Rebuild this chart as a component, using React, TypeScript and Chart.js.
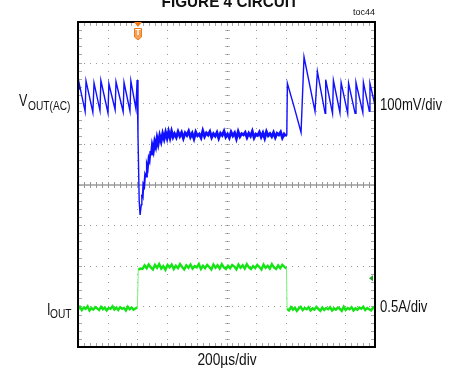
import React, { useEffect, useRef } from "react";
import { Chart, registerables } from "chart.js";

Chart.register(...registerables);

// Scope screen: 10 horizontal divisions x 8 vertical divisions
const X_DIVS = 10;
const Y_DIVS = 8;

// V_OUT(AC) trace (values in divisions) – sawtooth, load step dip and recovery
const vStartX = [
  0.0, 0.03, 0.24, 0.27, 0.5, 0.54, 0.74, 0.77, 1.01, 1.04, 1.25, 1.28, 1.52, 1.55, 1.75, 1.78, 1.95, 1.99, 2.02, 2.06, 2.09,
  2.13, 2.15, 2.18, 2.2, 2.23, 2.26, 2.29, 2.32, 2.35, 2.38, 2.41, 2.44, 2.47, 2.5, 2.54, 2.58, 2.62, 2.66, 2.7, 2.75, 2.8,
  2.85, 2.9, 2.95, 3.0, 3.05, 3.1, 3.15, 3.2,
];
const vStartY = [
  6.35, 6.52, 5.8, 6.55, 5.78, 6.5, 5.82, 6.56, 5.76, 6.48, 5.84, 6.53, 5.79, 6.51, 5.81, 6.55, 5.86, 6.57, 5.2, 3.6, 3.25,
  3.5, 3.75, 3.7, 4.0, 3.95, 4.25, 4.2, 4.48, 4.4, 4.65, 4.58, 4.82, 4.72, 4.95, 4.83, 5.05, 4.94, 5.14, 5.0, 5.2, 5.06,
  5.25, 5.12, 5.28, 5.14, 5.3, 5.15, 5.31, 5.17,
];
// V_OUT(AC) settled (noisy) level while load is high, uniformly sampled
const vFlatFrom = 3.25;
const vFlatTo = 7.0;
const vFlatY = [
  5.25, 5.16, 5.3, 5.19, 5.28, 5.14, 5.27, 5.21, 5.31, 5.17, 5.26, 5.13, 5.29, 5.2, 5.24, 5.15, 5.32, 5.18, 5.27, 5.22,
  5.3, 5.16, 5.25, 5.19, 5.28, 5.14, 5.26, 5.21, 5.31, 5.17, 5.24, 5.15, 5.29, 5.2, 5.27, 5.13, 5.3, 5.18, 5.25, 5.22,
  5.28, 5.16, 5.26, 5.19, 5.31, 5.15, 5.24, 5.21, 5.29, 5.17, 5.27, 5.14, 5.3, 5.2, 5.25, 5.18, 5.28, 5.16, 5.26, 5.22,
  5.29, 5.15, 5.24, 5.19,
];
// V_OUT(AC) after load release
const vEndX = [7.03, 7.05, 7.3, 7.51, 7.61, 7.98, 8.06, 8.32, 8.34, 8.57, 8.6, 8.82, 8.86, 9.08, 9.11, 9.33, 9.36, 9.59, 9.61, 9.81, 9.83, 10.0];
const vEndY = [5.22, 6.49, 5.85, 5.28, 7.14, 5.8, 6.78, 5.75, 6.58, 5.75, 6.56, 5.77, 6.51, 5.75, 6.49, 5.75, 6.51, 5.77, 6.51, 5.8, 6.49, 5.95];

// I_OUT trace (values in divisions), uniformly sampled segments
const iLowAFrom = 0.0;
const iLowATo = 2.0;
const iLowAY = [
  0.93, 0.99, 0.91, 0.97, 0.94, 1.0, 0.9, 0.96, 0.92, 0.98, 0.95, 0.91, 0.99, 0.93, 0.97, 0.9, 0.96, 0.94, 1.0, 0.92,
  0.97, 0.91, 0.98, 0.94, 0.96, 0.9, 0.99, 0.93, 0.97, 0.92, 0.95, 0.98,
];
const iHighFrom = 2.03;
const iHighTo = 7.02;
const iHighY = [
  1.9, 1.93, 1.92, 2.01, 1.94, 2.03, 1.96, 1.91, 2.02, 1.95, 2.04, 1.93, 1.99, 1.9, 2.02, 1.96, 2.03, 1.92, 2.0, 1.94,
  2.04, 1.97, 1.91, 2.01, 1.95, 2.03, 1.93, 1.99, 1.96, 2.04, 1.92, 2.0, 1.94, 2.02, 1.97, 1.91, 2.03, 1.95, 2.01, 1.93,
  2.04, 1.96, 1.92, 2.0, 1.94, 2.02, 1.98, 1.91, 2.03, 1.95, 2.01, 1.93, 2.04, 1.96, 1.92, 1.99, 1.94, 2.02, 1.97, 1.91,
  2.03, 1.95, 2.0, 1.93, 2.04, 1.96, 1.92, 2.01, 1.94, 2.02, 1.97, 1.93,
];
const iLowBFrom = 7.04;
const iLowBTo = 10.0;
const iLowBY = [
  0.94, 0.9, 0.98, 0.92, 0.97, 0.89, 0.95, 0.99, 0.91, 0.96, 0.93, 0.98, 0.9, 0.95, 0.92, 0.99, 0.94, 0.89, 0.97, 0.91,
  0.96, 0.93, 0.98, 0.9, 0.95, 0.92, 0.97, 0.94, 0.89, 0.99, 0.91, 0.96, 0.93, 0.98, 0.9, 0.95, 0.92, 0.97, 0.94, 0.99,
  0.91, 0.96, 0.93, 0.9, 0.97, 0.94,
];

// Markers
const triggerX = 2.02;
const groundMarkerY = 1.69;

// Text
const titleText = "FIGURE 4 CIRCUIT";
const tocText = "toc44";
const xScaleText = "200\u00b5s/div";
const vScaleText = "100mV/div";
const iScaleText = "0.5A/div";

type Pt = { x: number; y: number };
const pairs = (xs: number[], ys: number[]): Pt[] => xs.map((x, i) => ({ x, y: ys[i] }));
const sampled = (from: number, to: number, ys: number[]): Pt[] =>
  ys.map((y, i) => ({ x: from + ((to - from) * i) / (ys.length - 1), y }));

const vData: Pt[] = [...pairs(vStartX, vStartY), ...sampled(vFlatFrom, vFlatTo, vFlatY), ...pairs(vEndX, vEndY)];
const iData: Pt[] = [
  ...sampled(iLowAFrom, iLowATo, iLowAY),
  ...sampled(iHighFrom, iHighTo, iHighY),
  ...sampled(iLowBFrom, iLowBTo, iLowBY),
];

const scopePlugin = {
  id: "scopeGrid",
  beforeDatasetsDraw(chart: any) {
    const { ctx, chartArea: a, scales } = chart;
    const xs = scales.x;
    const ys = scales.y;
    ctx.save();
    // dotted grid lines
    ctx.fillStyle = "#9a9a9a";
    for (let i = 1; i < X_DIVS; i++) {
      if (i === X_DIVS / 2) continue;
      const px = Math.round(xs.getPixelForValue(i));
      for (let k = 1; k < Y_DIVS * 5; k++) {
        const py = Math.round(ys.getPixelForValue(k / 5));
        ctx.fillRect(px, py, 1, 1);
      }
    }
    for (let j = 1; j < Y_DIVS; j++) {
      if (j === Y_DIVS / 2) continue;
      const py = Math.round(ys.getPixelForValue(j));
      for (let k = 1; k < X_DIVS * 5; k++) {
        const px = Math.round(xs.getPixelForValue(k / 5));
        ctx.fillRect(px, py, 1, 1);
      }
    }
    // center horizontal line with ticks
    const cy = Math.round(ys.getPixelForValue(Y_DIVS / 2));
    ctx.fillStyle = "#b4b4b4";
    ctx.fillRect(a.left, cy - 1, a.right - a.left, 2);
    ctx.fillStyle = "#969696";
    for (let k = 1; k < X_DIVS * 5; k++) {
      const px = Math.round(xs.getPixelForValue(k / 5));
      ctx.fillRect(px, cy - 3, 1, 6);
    }
    // center vertical ticks
    const cx = Math.round(xs.getPixelForValue(X_DIVS / 2));
    for (let k = 1; k < Y_DIVS * 5; k++) {
      const py = Math.round(ys.getPixelForValue(k / 5));
      ctx.fillStyle = "#b8b8b8";
      ctx.fillRect(cx - 2, py, 5, 1);
      ctx.fillStyle = "#808080";
      ctx.fillRect(cx, py, 1, 1);
    }
    // border ticks
    ctx.fillStyle = "#a8a8a8";
    for (let k = 1; k < X_DIVS * 5; k++) {
      const px = Math.round(xs.getPixelForValue(k / 5));
      ctx.fillRect(px, a.top + 1, 1, 3);
      ctx.fillRect(px, a.bottom - 4, 1, 3);
    }
    for (let k = 1; k < Y_DIVS * 5; k++) {
      const py = Math.round(ys.getPixelForValue(k / 5));
      ctx.fillRect(a.left + 1, py, 3, 1);
      ctx.fillRect(a.right - 4, py, 3, 1);
    }
    ctx.restore();
  },
  afterDatasetsDraw(chart: any) {
    const { ctx, chartArea: a, scales } = chart;
    const xs = scales.x;
    const ys = scales.y;
    ctx.save();
    // frame
    ctx.strokeStyle = "#000";
    ctx.lineWidth = 2;
    ctx.strokeRect(a.left, a.top, a.right - a.left, a.bottom - a.top);
    // trigger marker
    const tx = xs.getPixelForValue(triggerX);
    ctx.fillStyle = "#f07a18";
    ctx.beginPath();
    ctx.moveTo(tx - 4, a.top);
    ctx.lineTo(tx + 4, a.top);
    ctx.lineTo(tx, a.top + 5);
    ctx.closePath();
    ctx.fill();
    ctx.fillStyle = "#f5a055";
    ctx.strokeStyle = "#ec7b1e";
    ctx.lineWidth = 1;
    ctx.beginPath();
    ctx.moveTo(tx - 3.5, a.top + 6.5);
    ctx.lineTo(tx + 3.5, a.top + 6.5);
    ctx.lineTo(tx + 3.5, a.top + 15);
    ctx.lineTo(tx, a.top + 18);
    ctx.lineTo(tx - 3.5, a.top + 15);
    ctx.closePath();
    ctx.fill();
    ctx.stroke();
    ctx.fillStyle = "#ffffff";
    ctx.font = 'bold 9px "Liberation Sans", Arial, sans-serif';
    ctx.textAlign = "center";
    ctx.textBaseline = "middle";
    ctx.fillText("T", tx, a.top + 11);
    // ground marker for channel 2
    const gy = ys.getPixelForValue(groundMarkerY);
    ctx.fillStyle = "#2a9a2a";
    ctx.beginPath();
    ctx.moveTo(a.right - 6, gy);
    ctx.lineTo(a.right - 2, gy - 3);
    ctx.lineTo(a.right - 2, gy + 3);
    ctx.closePath();
    ctx.fill();
    ctx.restore();
  },
};

const FONT = '"Liberation Sans", Arial, Helvetica, sans-serif';

type LabelProps = {
  x: number;
  baseline: number;
  size: number;
  anchor?: "left" | "center" | "right";
  bold?: boolean;
  sx?: number;
  children: React.ReactNode;
};

function Label({ x, baseline, size, anchor = "left", bold, sx = 1, children }: LabelProps) {
  const style: React.CSSProperties = {
    position: "absolute",
    top: baseline - 0.8465 * size,
    fontFamily: FONT,
    fontSize: size,
    lineHeight: `${size}px`,
    fontWeight: bold ? 700 : 400,
    whiteSpace: "nowrap",
    color: "#111",
  };
  if (anchor === "left") {
    style.left = x;
    style.transform = `scaleX(${sx})`;
    style.transformOrigin = "left center";
  } else if (anchor === "right") {
    style.right = 453 - x;
    style.transform = `scaleX(${sx})`;
    style.transformOrigin = "right center";
  } else {
    style.left = x;
    style.transform = `translateX(-50%) scaleX(${sx})`;
    style.transformOrigin = "center center";
  }
  return <div style={style}>{children}</div>;
}

export default function App() {
  const canvasRef = useRef<HTMLCanvasElement | null>(null);

  useEffect(() => {
    const canvas = canvasRef.current;
    if (!canvas) return;
    const chart = new Chart(canvas, {
      type: "scatter",
      data: {
        datasets: [
          {
            label: "IOUT",
            data: iData,
            showLine: true,
            borderColor: "#14e414",
            borderWidth: 2.4,
            pointRadius: 0,
            tension: 0,
            segment: {
              borderWidth: (c: any) => (Math.abs(c.p1.parsed.y - c.p0.parsed.y) > 0.5 ? 1 : 2.4),
              borderColor: (c: any) => (Math.abs(c.p1.parsed.y - c.p0.parsed.y) > 0.5 ? "#7af07a" : "#14e414"),
            },
          },
          {
            label: "VOUT(AC)",
            data: vData,
            showLine: true,
            borderColor: "#1010ff",
            borderWidth: 1.4,
            pointRadius: 0,
            tension: 0,
            segment: {
              borderWidth: (c: any) => {
                const x0 = c.p0.parsed.x;
                const x1 = c.p1.parsed.x;
                if (x0 >= 2.45 && x1 <= 7.01) return 2.8;
                if (x0 >= 2.15 && x1 <= 2.45) return 2.0;
                return 1.4;
              },
            },
          },
        ],
      },
      options: {
        animation: false,
        responsive: false,
        maintainAspectRatio: false,
        devicePixelRatio: 1,
        events: [],
        layout: { padding: { left: 78, right: 78, top: 22, bottom: 25 } },
        scales: {
          x: { type: "linear", min: 0, max: X_DIVS, display: false },
          y: { type: "linear", min: 0, max: Y_DIVS, display: false },
        },
        plugins: {
          legend: { display: false },
          tooltip: { enabled: false },
          title: { display: false },
        },
      },
      plugins: [scopePlugin],
    });
    return () => chart.destroy();
  }, []);

  return (
    <div
      style={{
        position: "absolute",
        left: 0,
        top: 0,
        width: 453,
        height: 372,
        overflow: "hidden",
        background: "#ffffff",
      }}
    >
      <canvas ref={canvasRef} width={453} height={372} style={{ display: "block", width: 453, height: 372 }} />
      <Label x={230} baseline={7} size={17} anchor="center" bold sx={0.9}>
        {titleText}
      </Label>
      <Label x={375} baseline={16} size={9} anchor="right">
        {tocText}
      </Label>
      <Label x={19} baseline={106.7} size={16} sx={0.78}>
        V
      </Label>
      <Label x={28} baseline={110.5} size={12} sx={0.85}>
        OUT(AC)
      </Label>
      <Label x={46.5} baseline={315.5} size={16} sx={0.78}>
        I
      </Label>
      <Label x={50} baseline={318.5} size={12} sx={0.85}>
        OUT
      </Label>
      <Label x={380} baseline={110.5} size={16} sx={0.82}>
        {vScaleText}
      </Label>
      <Label x={380} baseline={312.5} size={16} sx={0.82}>
        {iScaleText}
      </Label>
      <Label x={226.5} baseline={365.5} size={16} anchor="center" sx={0.86}>
        {xScaleText}
      </Label>
    </div>
  );
}
